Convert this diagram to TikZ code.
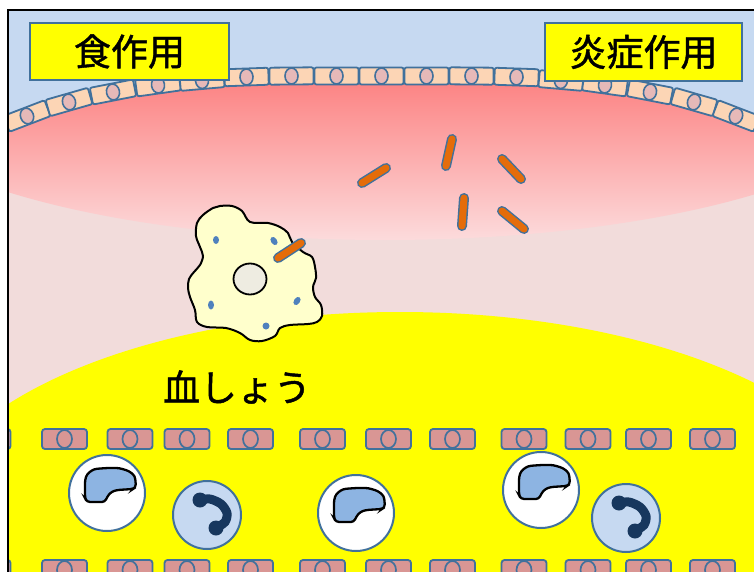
\documentclass[tikz,border=0pt]{standalone}
\usepackage{fontspec}
\newfontfamily\jpfont[FakeBold=1.2]{Noto Sans CJK JP}
\usepackage{tikz}
\usetikzlibrary{calc}

\definecolor{sky}{HTML}{C6D9F1}
\definecolor{edge}{HTML}{41719C}
\definecolor{peach}{HTML}{FCD5B5}
\definecolor{nucpink}{HTML}{E6B9B8}
\definecolor{tissue}{HTML}{F2DCDB}
\definecolor{plasma}{HTML}{FFFF00}
\definecolor{vessel}{HTML}{D99694}
\definecolor{lymph}{HTML}{8DB4E2}
\definecolor{neutro}{HTML}{17375E}
\definecolor{germ}{HTML}{E46C0A}
\definecolor{macro}{HTML}{FFFFCC}
\definecolor{macronuc}{HTML}{EEECE1}
\definecolor{dot}{HTML}{4F81BD}

\tikzset{
  labelbox/.style={draw=edge, line width=2, fill=plasma, inner sep=0,
    font=\jpfont\fontsize{37}{37}\selectfont},
}

\def\epicell(#1,#2,#3){\begin{scope}[shift={(#1,#2)},rotate=#3]
  \draw[edge,line width=1.8,fill=peach,rounded corners=2] (-22,-8.5) rectangle (22,8.5);
  \draw[edge,line width=1.6,fill=nucpink] (0,0) ellipse (6.5 and 8);
\end{scope}}
\def\vesselcell(#1,#2){\draw[edge,line width=1.8,fill=vessel,rounded corners=3] ($(#1,#2)+(-22.5,-10)$) rectangle ($(#1,#2)+(22.5,10)$);
  \draw[edge,line width=1.7] (#1,#2) ellipse (7.5 and 9);}
\def\bacterium(#1)(#2){\draw[edge,line width=10,line cap=round] (#1) -- (#2);
  \draw[germ,line width=7,line cap=round] (#1) -- (#2);}
\def\lymphocyte(#1){\draw[edge,line width=2,fill=white] (#1) circle (38);
  \draw[line width=2.3,fill=lymph,rounded corners=3,shift={(#1)}] (-22,-13) -- (-20,-19) -- (-13,-24) -- (0,-25) -- (12,-25) -- (22,-22) -- (28,-17) -- (29,-6) -- (26,-4) -- (10,-3) -- (4,-1) -- (0,4) -- (-2,9) -- (-20,9) -- (-22,5) -- cycle;}
\def\neutrophil(#1){\draw[edge,line width=2,fill=sky] (#1) circle (34);
  \begin{scope}[shift={(#1)}]
    \draw[neutro,line width=9,line cap=round] plot[smooth] coordinates {(-7,-15) (3,-16) (14,-11) (20,-2) (18,7) (9,13)};
    \fill[neutro] (-7,-15) circle (7.5) (9,13) circle (7.5);
  \end{scope}}

\begin{document}
\begin{tikzpicture}[x=1pt,y=-1pt]
    \useasboundingbox (0,0) rectangle (754,572);
    \begin{scope}
    \clip (8,10) rectangle (760,580);
    %%%%% sky and tissue %%%%%
    \fill[sky] (0,0) rectangle (760,580);
    \begin{scope}
        \clip plot[smooth] coordinates {(-60,155) (-14,133) (27,116) (69,102) (113,92) (158,85) (202,80.5) (246.5,77) (291.5,76) (381.5,76) (471.5,76) (516.5,77) (561,80.5) (605,85) (650,92) (694,102) (736,116) (777,133) (820,155)} -- (820,600) -- (-60,600) -- cycle;
        \fill[tissue] (-60,0) rectangle (820,600);
        \clip (385,86) ellipse (520 and 154);
        \shade[top color={rgb,255:red,252;green,124;blue,124}, middle color={rgb,255:red,244;green,210;blue,210}, bottom color={rgb,255:red,252;green,219;blue,220}] (-60,68) rectangle (820,240);
    \end{scope}

    %%%%% plasma %%%%%
    \fill[plasma] (400,530) ellipse (480 and 218);

    %%%%% surface layer %%%%%
    \foreach \x/\y/\a in {-14/133/25, 27/116/21, 69/102/16, 113/92/11, 158/85/8, 202/80.5/5, 246.5/77/2, 291.5/76/0.5, 336.5/76/0, 381.5/76/0, 426.5/76/0, 471.5/76/-0.5, 516.5/77/-2, 561/80.5/-5, 605/85/-8, 650/92/-11, 694/102/-16, 736/116/-21, 777/133/-25}
        \epicell(\x,\y,\a);

    %%%%% bacteria %%%%%
    \bacterium(362,183)(386,168)
    \bacterium(452,139)(446,166)
    \bacterium(502,159)(521,179)
    \bacterium(464,198)(462,226)
    \bacterium(502,211)(524,229)

    %%%%% macrophage %%%%%
    \draw[line width=2,fill=macro] plot[smooth cycle,tension=0.55] coordinates {(213,208) (220,206) (232,206) (242,211) (250,222) (268,223) (280,227) (288,233) (292,242) (303,252) (312,257) (315,267) (316,278) (313,287) (315,297) (321,305) (322,316) (317,322) (308,324) (290,325) (280,328) (275,336) (262,341) (250,340) (240,333) (226,328) (207,327) (197,322) (195,310) (190,297) (188,288) (189,279) (194,272) (200,265) (203,256) (200,247) (196,236) (197,223) (203,215)};
    \draw[line width=1.8,fill=macronuc] (250,279) ellipse (16.5 and 15.5);
    \fill[dot] (216,240) ellipse (3 and 4);
    \fill[dot,rotate around={35:(274,241)}] (274,241) ellipse (3 and 4.5);
    \fill[dot] (211,305) ellipse (3 and 4.5);
    \fill[dot,rotate around={-35:(297,301)}] (297,301) ellipse (3 and 4.5);
    \fill[dot] (266,326) ellipse (3.5 and 3.5);
    \bacterium(278,258)(301,243)

    %%%%% blood vessel %%%%%
    \foreach \x in {-12,64.5,130,187,250.5,322.5,388.5,452.5,524,588,648.5,712.5} {
        \vesselcell(\x,439)
        \vesselcell(\x,570)
    }
    \lymphocyte(107,493)
    \lymphocyte(356,513)
    \lymphocyte(541,490)
    \neutrophil(207,515)
    \neutrophil(626,518)
    \end{scope}

    %%%%% labels %%%%%
    \node[labelbox, minimum width=199, minimum height=57] (phago) at (129.5,51.5) {食作用};
    \node[labelbox, minimum width=197, minimum height=58] (inflam) at (643.5,52) {炎症作用};
    \node[font=\jpfont\fontsize{37}{37}\selectfont, inner sep=0] (serum) at (237,387) {血しょう};

    \draw[line width=2.5] (8,580) -- (8,10) -- (760,10);
\end{tikzpicture}
\end{document}
